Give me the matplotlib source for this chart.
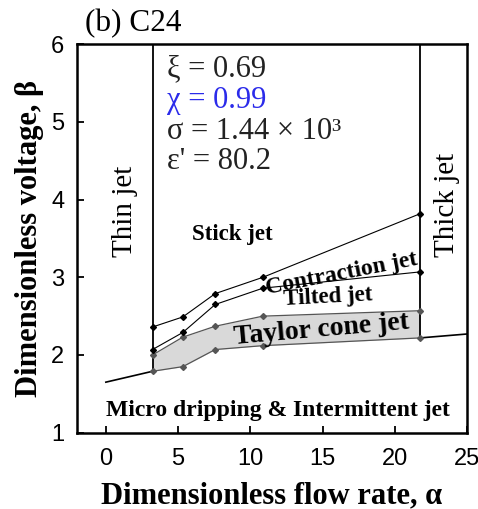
import matplotlib
matplotlib.use('Agg')
import matplotlib.pyplot as plt

# puntos de frontera (alfa, beta)
alfa = [3.23, 5.33, 7.57, 10.87, 21.77]
taylor_abajo = [1.79, 1.85, 2.07, 2.12, 2.22]
taylor_arriba = [2.00, 2.23, 2.37, 2.50, 2.57]
tilted = [2.07, 2.29, 2.65, 2.86, 3.07]
contraction = [2.36, 2.49, 2.79, 3.00, 3.82]

goteo_izq_alfa = [0, 3.23]
goteo_izq_beta = [1.65, 1.79]
goteo_der_alfa = [21.77, 25]
goteo_der_beta = [2.22, 2.27]

parametros = ['ξ = 0.69', 'χ = 0.99', 'σ = 1.44 × 10³', "ε' = 80.2"]
colores_param = ['#222222', '#2b2bea', '#222222', '#222222']

SERIF = 'Liberation Serif'
SANS = 'Liberation Sans'

fig = plt.figure(figsize=(4.78, 5.09), dpi=100)
ax = fig.add_axes([0.161, 0.150, 0.816, 0.763])

# banda gris de Taylor cone
ax.fill_between(alfa, taylor_abajo, taylor_arriba, color='#d9d9d9', lw=0, zorder=1)
ax.plot(alfa, taylor_abajo, c='#555555', lw=0.9, marker='D', ms=3, zorder=3)
ax.plot(alfa, taylor_arriba, c='#555555', lw=0.9, marker='D', ms=3, zorder=3)
ax.plot(alfa, tilted, c='black', lw=0.8, marker='D', ms=3, zorder=3)
ax.plot(alfa, contraction, c='black', lw=0.8, marker='D', ms=3, zorder=3)

ax.plot(goteo_izq_alfa, goteo_izq_beta, c='black', lw=1.2, zorder=2)
ax.plot(goteo_der_alfa, goteo_der_beta, c='black', lw=1.2, zorder=2)

# verticales thin / thick
ax.plot([alfa[0], alfa[0]], [taylor_abajo[0], 6], c='black', lw=1.3, zorder=2)
ax.plot([alfa[-1], alfa[-1]], [taylor_abajo[-1], 6], c='black', lw=1.3, zorder=2)

ax.set_xlim(-2, 25)
ax.set_ylim(1, 6)
ax.set_xticks([0, 5, 10, 15, 20, 25])
ax.set_yticks([1, 2, 3, 4, 5, 6])
ax.tick_params(direction='in', length=5, width=1.3, labelsize=17, pad=9)
ax.tick_params(axis='x', pad=11)
for lab in ax.get_xticklabels() + ax.get_yticklabels():
    lab.set_fontfamily(SANS)
for s in ax.spines.values():
    s.set_linewidth(1.8)

ax.set_xlabel('Dimensionless flow rate, α', family=SERIF, fontsize=22,
              fontweight='bold', labelpad=8)
ax.set_ylabel('Dimensionless voltage, β', family=SERIF, fontsize=22,
              fontweight='bold', labelpad=5)

fig.text(85 / 478, 1 - 31 / 509, '(b) C24', family=SERIF, fontsize=22.5,
         ha='left', va='baseline')

ys = [5.68, 5.28, 4.875, 4.49]
for t, c, y in zip(parametros, colores_param, ys):
    ax.text(4.22, y, t, family=SERIF, fontsize=22, color=c, ha='left', va='center')

ax.text(1.34, 3.26, 'Thin jet', family=SERIF, fontsize=21, rotation=90,
        ha='center', va='bottom')
ax.text(23.6, 3.26, 'Thick jet', family=SERIF, fontsize=21, rotation=90,
        ha='center', va='bottom')

ax.text(8.75, 3.55, 'Stick jet', family=SERIF, fontsize=16.5, fontweight='bold',
        ha='center', va='center')
ax.text(16.3, 3.04, 'Contraction jet', family=SERIF, fontsize=17, fontweight='bold',
        ha='center', va='center', rotation=11)
ax.text(15.4, 2.75, 'Tilted jet', family=SERIF, fontsize=16.5, fontweight='bold',
        ha='center', va='center', rotation=3)
ax.text(14.9, 2.32, 'Taylor cone jet', family=SERIF, fontsize=20, fontweight='bold',
        ha='center', va='center', rotation=5, zorder=4)
ax.text(11.93, 1.29, 'Micro dripping & Intermittent jet', family=SERIF, fontsize=17,
        fontweight='bold', ha='center', va='center')

fig.savefig('out.png', dpi=100)
